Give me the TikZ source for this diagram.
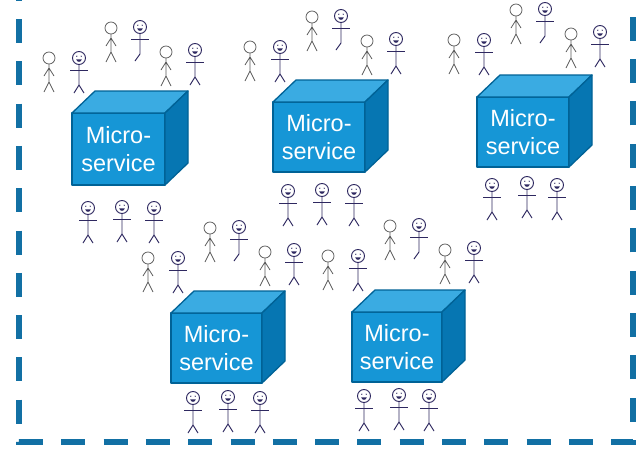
\documentclass[tikz,border=0pt]{standalone}
\usepackage{fontspec}
\newfontfamily\boxfont{Liberation Sans}
\definecolor{framebl}{RGB}{18,112,164}
\definecolor{cubefront}{RGB}{22,150,214}
\definecolor{cubetop}{RGB}{58,171,226}
\definecolor{cubeside}{RGB}{6,118,178}
\definecolor{cubeedge}{RGB}{0,98,150}
\definecolor{figgray}{RGB}{88,88,88}
\definecolor{fignavy}{RGB}{46,40,96}

\tikzset{
  frameline/.style={line width=6pt, draw=framebl, line cap=butt,
    dash pattern=on 24pt off 18.3pt, dash phase=23.3pt},
  edgeline/.style={draw=cubeedge, line width=1.3pt, line join=round},
  boxlabel/.style={text=white, align=center, inner sep=0pt,
    font=\boxfont\fontsize{23.5}{28}\selectfont},
  plainstroke/.style={draw=figgray, line width=0.75pt},
  smilestroke/.style={draw=fignavy, line width=0.95pt},
  armstroke/.style={draw=fignavy, line width=1.7pt},
  % idle person: open head, hanging arms
  pics/plainfig/.style={code={
    \draw[plainstroke, fill=white] (0,0) circle[radius=6pt];
    \draw[plainstroke] (0,6) -- (0,24) (-5,34) -- (0,24) -- (5,34)
                       (-5,18) -- (0,10) -- (5,18);
  }},
  % smiling person standing
  pics/smileyfig/.style={code={
    \draw[smilestroke, fill=white] (0,0) circle[radius=6.5pt];
    \fill[fignavy] (-2.2,-1.8) circle[radius=0.7pt] (2.2,-1.8) circle[radius=0.7pt];
    \fill[fignavy] (-2.8,1.4) .. controls (-2,4.6) and (2,4.6) .. (2.8,1.4) -- cycle;
    \draw[smilestroke] (0,6.5) -- (0,27) (-5,35) -- (0,27) -- (5,35);
    \draw[armstroke] (-9,12.5) -- (9,12.5);
  }},
  % smiling person stepping forward
  pics/walkerfig/.style={code={
    \draw[smilestroke, fill=white] (0,0) circle[radius=6.5pt];
    \fill[fignavy] (-2.2,-1.8) circle[radius=0.7pt] (2.2,-1.8) circle[radius=0.7pt];
    \fill[fignavy] (-2.8,1.4) .. controls (-2,4.6) and (2,4.6) .. (2.8,1.4) -- cycle;
    \draw[smilestroke] (0,6.5) -- (0,27) -- (-5,34);
    \draw[armstroke] (-9,12.5) -- (9,12.5);
  }},
}

% #1 name, #2/#3 front top-left corner, #4 width, #5 height
\newcommand\servicebox[5]{%
  \begin{scope}[shift={(#2,#3)}]
    \path[edgeline, fill=cubefront] (0,0) rectangle (#4,#5);
    \path[edgeline, fill=cubetop] (0,0) -- (23,-22) -- (#4+23,-22) -- (#4,0) -- cycle;
    \path[edgeline, fill=cubeside] (#4,0) -- (#4+23,-22) -- (#4+23,#5-22) -- (#4,#5) -- cycle;
    \node[boxlabel] (#1) at (#4/2,#5/2) {Micro-\\service};
  \end{scope}}

% a loose crowd of six people around a service
\newcommand\crowd[2]{%
  \begin{scope}[shift={(#1,#2)}]
    \pic at (0,0) {plainfig};
    \pic at (30,0) {smileyfig};
    \pic at (62,-30) {plainfig};
    \pic at (91,-31) {walkerfig};
    \pic at (117,-6) {plainfig};
    \pic at (146,-8) {smileyfig};
  \end{scope}}

\begin{document}
\begin{tikzpicture}[x=1pt,y=-1pt]
  \useasboundingbox (0,0) rectangle (641,448);
  \fill[white] (0,0) rectangle (641,448);

  % dashed system boundary (open at the top)
  \coordinate (tl) at (19,0);
  \coordinate (bl) at (19,442);
  \coordinate (br) at (633,442);
  \coordinate (tr) at (633,0);
  \draw[frameline] (tl) -- (bl) -- (br) -- (tr);

  % crowds
  \crowd{49}{58}
  \crowd{250}{47}
  \crowd{454}{40}
  \crowd{148}{258}
  \crowd{328}{256}

  % services
  \servicebox{ms1}{72}{113}{93}{72}
  \servicebox{ms2}{273}{102}{92}{70}
  \servicebox{ms3}{477}{97}{92}{70}
  \servicebox{ms4}{171}{313}{91}{70}
  \servicebox{ms5}{352}{312}{90}{70}

  % users waiting below each service
  \pic at (88,208) {smileyfig};
  \pic at (122,207) {smileyfig};
  \pic at (154,208) {smileyfig};

  \pic at (288,191) {smileyfig};
  \pic at (322,190) {smileyfig};
  \pic at (354,191) {smileyfig};

  \pic at (492,185) {smileyfig};
  \pic at (527,183) {smileyfig};
  \pic at (557,185) {smileyfig};

  \pic at (193,398) {smileyfig};
  \pic at (228,397) {smileyfig};
  \pic at (260,398) {smileyfig};

  \pic at (364,396) {smileyfig};
  \pic at (399,395) {smileyfig};
  \pic at (429,396) {smileyfig};
\end{tikzpicture}
\end{document}
